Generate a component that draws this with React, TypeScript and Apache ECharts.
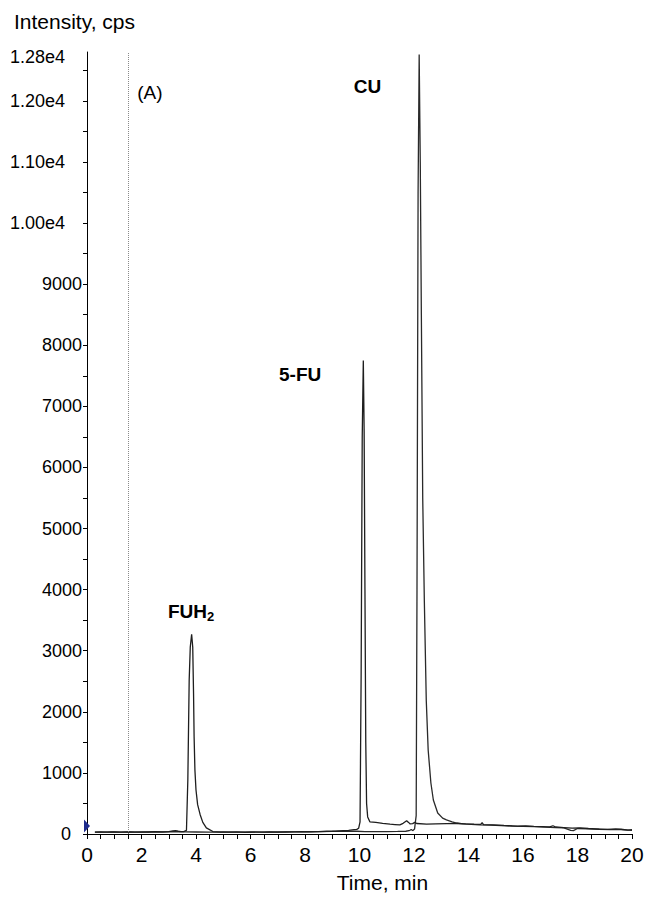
import React, { useEffect, useRef } from "react";
import * as echarts from "echarts";

// Time axis (min) and intensity axis (cps)
const timeLabels = [0, 2, 4, 6, 8, 10, 12, 14, 16, 18, 20];
const timeTicks = [
  0, 0.5, 1, 1.5, 2, 2.5, 3, 3.5, 4, 4.5, 5, 5.5, 6, 6.5, 7, 7.5, 8, 8.5, 9, 9.5,
  10, 10.5, 11, 11.5, 12, 12.5, 13, 13.5, 14, 14.5, 15, 15.5, 16, 16.5, 17, 17.5,
  18, 18.5, 19, 19.5, 20,
];
const intensityLabels = [
  0, 1000, 2000, 3000, 4000, 5000, 6000, 7000, 8000, 9000, 10000, 11000, 12000, 12800,
];
const intensityTicks = [
  0, 500, 1000, 1500, 2000, 2500, 3000, 3500, 4000, 4500, 5000, 5500, 6000, 6500,
  7000, 7500, 8000, 8500, 9000, 9500, 10000, 10500, 11000, 11500, 12000, 12500,
];

// Trace carrying the FUH2 and 5-FU peaks: [time (min), intensity (cps)]
const fuTrace: [number, number][] = [
  [0.29, 30], [0.5, 34], [0.75, 30], [1.0, 36], [1.25, 32], [1.5, 35], [1.75, 30],
  [2.0, 36], [2.25, 33], [2.5, 38], [2.75, 34], [3.0, 40], [3.15, 50], [3.25, 55],
  [3.35, 45], [3.45, 38], [3.55, 40], [3.65, 60],
  [3.7, 880], [3.75, 2520], [3.79, 3060], [3.84, 3270], [3.88, 3060], [3.91, 2300],
  [3.93, 1600], [3.96, 1050], [4.0, 720], [4.06, 480], [4.15, 320], [4.25, 190],
  [4.38, 100], [4.62, 40],
  [4.9, 32], [5.2, 30], [5.5, 35], [5.8, 28], [6.1, 32], [6.4, 30], [6.7, 34],
  [7.0, 30], [7.3, 33], [7.6, 35], [7.9, 38], [8.2, 36], [8.5, 40], [8.8, 45],
  [9.1, 48], [9.4, 55], [9.6, 60], [9.8, 70], [9.9, 75], [9.97, 95],
  [10.02, 200], [10.06, 2600], [10.1, 6500], [10.14, 7750], [10.17, 6600],
  [10.2, 4000], [10.23, 1500], [10.26, 500], [10.3, 280], [10.38, 200],
  [10.6, 190], [10.85, 175], [11.12, 160], [11.3, 155], [11.48, 150], [11.6, 175],
  [11.73, 218], [11.8, 190], [11.86, 165], [11.95, 170], [12.03, 190], [12.1, 172],
  [12.46, 160], [12.8, 165], [13.2, 170], [13.56, 172], [13.9, 165], [14.2, 160],
  [14.45, 158], [14.5, 185], [14.55, 155], [14.9, 150], [15.3, 140], [15.8, 130],
  [16.1, 132], [16.4, 125], [16.7, 120], [16.98, 115], [17.1, 135], [17.2, 115],
  [17.5, 105], [17.8, 95], [18.1, 100], [18.4, 90], [18.8, 80], [19.1, 75],
  [19.4, 85], [19.6, 78], [19.85, 65], [20.0, 70],
];

// Trace carrying the CU peak
const cuTrace: [number, number][] = [
  [0.29, 32], [0.6, 30], [0.9, 34], [1.2, 31], [1.6, 35], [2.0, 32], [2.4, 36],
  [2.8, 33], [3.2, 38], [3.6, 34], [4.0, 33], [4.5, 31], [5.0, 33], [5.5, 30],
  [6.0, 34], [6.5, 31], [7.0, 33], [7.5, 35], [8.0, 37], [8.5, 40], [9.0, 42],
  [9.5, 45], [9.9, 45], [10.2, 40], [10.6, 38], [11.0, 40], [11.4, 42], [11.7, 45],
  [11.85, 60], [11.9, 75], [11.95, 55], [12.02, 80], [12.08, 300],
  [12.11, 4000], [12.15, 10500], [12.19, 12760], [12.23, 11000], [12.27, 8500],
  [12.32, 5500], [12.38, 3800], [12.45, 2190], [12.52, 1375], [12.62, 835],
  [12.71, 556], [12.87, 344], [13.05, 260], [13.19, 230], [13.4, 200], [13.56, 180],
  [13.8, 165], [14.1, 158], [14.4, 150], [14.8, 145], [15.2, 138], [15.6, 128],
  [16.0, 125], [16.4, 120], [16.8, 112], [17.2, 105], [17.5, 100], [17.75, 60],
  [17.85, 55], [18.0, 90], [18.4, 85], [18.8, 78], [19.2, 70], [19.6, 72], [20.0, 60],
];

// Peak annotations: [text, time, intensity]
const peakNames: [string, number, number][] = [
  ["{n|FUH}{s|2}", 3.82, 3630],
  ["{n|5-FU}", 7.82, 7510],
  ["{n|CU}", 10.29, 12230],
];
const panelTag: [string, number, number] = ["(A)", 2.31, 12130];
const markerTime = 1.5;
const injectionMarker: [number, number] = [0, 180];

const FONT = "'Liberation Sans', Arial, Helvetica, sans-serif";

export default function App() {
  const ref = useRef<HTMLDivElement>(null);

  useEffect(() => {
    if (!ref.current) return;
    const chart = echarts.init(ref.current, undefined, { renderer: "svg" });

    const textLabel = (text: string, bold: boolean) => ({
      show: true,
      position: "inside",
      formatter: text,
      color: "#000",
      fontFamily: FONT,
      fontSize: 19,
      fontWeight: bold ? "bold" : "normal",
      rich: {
        n: { fontFamily: FONT, fontSize: 19, fontWeight: "bold", color: "#000", lineHeight: 23 },
        s: {
          fontFamily: FONT,
          fontSize: 13,
          fontWeight: "bold",
          color: "#000",
          lineHeight: 23,
          verticalAlign: "bottom",
        },
      },
    });

    const annotationPoints = [
      ...peakNames.map(([text, t, v]) => ({
        coord: [t, v],
        symbolSize: 1,
        itemStyle: { color: "transparent" },
        label: textLabel(text, true),
      })),
      {
        coord: [panelTag[1], panelTag[2]],
        symbolSize: 1,
        itemStyle: { color: "transparent" },
        label: textLabel(panelTag[0], false),
      },
      {
        coord: injectionMarker,
        symbol: "triangle",
        symbolRotate: -90,
        symbolSize: [13, 6],
        symbolOffset: [0, 3],
        itemStyle: { color: "#1d2a8c" },
        label: { show: false },
      },
    ];

    // Intensity labels: thousands sit close to the axis, e4 values further out
    const intensityText = (v: number) => {
      if (v === 12800) return "{t|1.28e4}";
      if (v >= 10000) return "{e|" + (v / 10000).toFixed(2) + "e4}";
      if (v === 0) return "{z|0}";
      return "{k|" + v + "}";
    };
    const yLabelStyle = { fontFamily: FONT, fontSize: 18, color: "#000" };

    chart.setOption({
      animation: false,
      backgroundColor: "#fff",
      title: {
        text: "Intensity, cps",
        left: 9,
        top: 6,
        textStyle: { fontFamily: FONT, fontSize: 21, fontWeight: "normal", color: "#000" },
      },
      grid: {
        left: 87,
        right: 16,
        top: 52,
        bottom: 63,
        containLabel: false,
        outerBoundsMode: "none",
      },
      xAxis: {
        type: "value",
        min: 0,
        max: 20,
        interval: 2,
        name: "Time, min",
        nameLocation: "middle",
        nameGap: 38,
        nameTextStyle: {
          fontFamily: FONT,
          fontSize: 21,
          color: "#000",
          padding: [0, 0, 0, 46],
        },
        axisLine: { show: true, onZero: false, lineStyle: { color: "#000", width: 1 } },
        axisTick: {
          show: true,
          inside: false,
          length: 5,
          customValues: timeTicks,
          lineStyle: { color: "#000", width: 1 },
        },
        axisLabel: {
          show: true,
          margin: 10,
          fontFamily: FONT,
          fontSize: 21,
          color: "#000",
          customValues: timeLabels,
          formatter: (v: number) => String(v),
        },
        splitLine: { show: false },
      },
      yAxis: {
        type: "value",
        min: 0,
        max: 12800,
        interval: 1000,
        axisLine: { show: true, onZero: false, lineStyle: { color: "#000", width: 1 } },
        axisTick: {
          show: true,
          inside: false,
          length: 4,
          customValues: intensityTicks,
          lineStyle: { color: "#000", width: 1 },
        },
        axisLabel: {
          show: true,
          margin: 5,
          align: "right",
          fontFamily: FONT,
          fontSize: 18,
          color: "#000",
          customValues: intensityLabels,
          formatter: intensityText,
          rich: {
            k: { ...yLabelStyle },
            e: { ...yLabelStyle, padding: [0, 17, 0, 0] },
            t: { ...yLabelStyle, padding: [10, 17, 0, 0] },
            z: { ...yLabelStyle, padding: [0, 11, 0, 0] },
          },
        },
        splitLine: { show: false },
      },
      series: [
        {
          type: "line",
          data: cuTrace,
          showSymbol: false,
          symbol: "none",
          smooth: false,
          lineStyle: { color: "#2a2a2a", width: 1.3 },
          z: 2,
        },
        {
          type: "line",
          data: fuTrace,
          showSymbol: false,
          symbol: "none",
          smooth: false,
          lineStyle: { color: "#1e1e1e", width: 1.3 },
          z: 3,
          markLine: {
            silent: true,
            symbol: ["none", "none"],
            label: { show: false },
            lineStyle: { type: "dotted", color: "#8a8a8a", width: 1 },
            data: [{ xAxis: markerTime }],
          },
          markPoint: {
            silent: true,
            data: annotationPoints,
          },
        },
      ],
    });

    return () => chart.dispose();
  }, []);

  return (
    <div
      ref={ref}
      style={{ position: "fixed", left: 0, top: 0, width: 648, height: 897, background: "#fff" }}
    />
  );
}
